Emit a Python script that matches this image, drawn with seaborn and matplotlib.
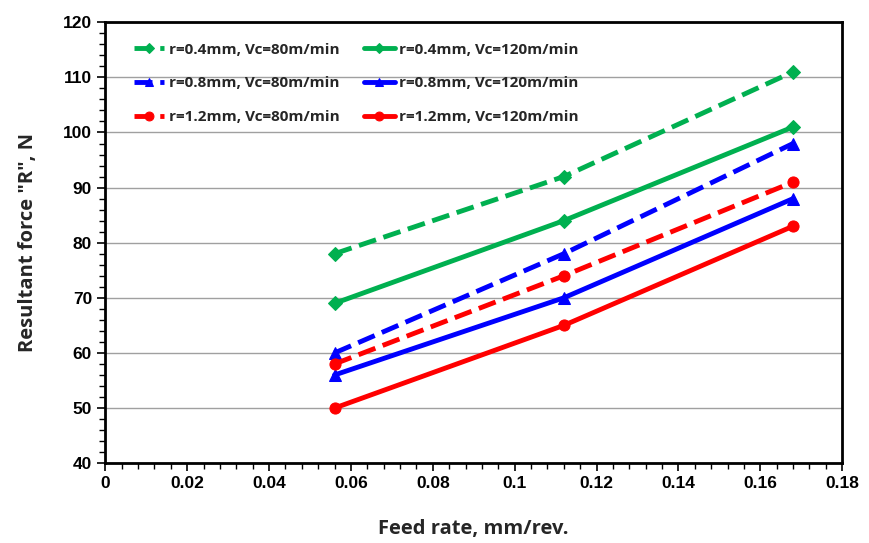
import matplotlib
matplotlib.use("Agg")
import matplotlib.pyplot as plt
from matplotlib.ticker import MultipleLocator
import seaborn as sns
import pandas as pd

feed = [0.056, 0.112, 0.168]
r04_v80 = [78, 92, 111]
r04_v120 = [69, 84, 101]
r08_v80 = [60, 78, 98]
r08_v120 = [56, 70, 88]
r12_v80 = [58, 74, 91]
r12_v120 = [50, 65, 83]

labels = ["r=0.4mm, Vc=80m/min", "r=0.4mm, Vc=120m/min",
          "r=0.8mm, Vc=80m/min", "r=0.8mm, Vc=120m/min",
          "r=1.2mm, Vc=80m/min", "r=1.2mm, Vc=120m/min"]
values = [r04_v80, r04_v120, r08_v80, r08_v120, r12_v80, r12_v120]
colors = ["#00B050", "#00B050", "#0000FF", "#0000FF", "#FF0000", "#FF0000"]
styles = ["--", "-", "--", "-", "--", "-"]
markers = ["D", "D", "^", "^", "o", "o"]
msizes = [7, 7, 8, 8, 8, 8]

sns.set_theme(style="white")
plt.rcParams['font.family'] = ['Liberation Sans', 'DejaVu Sans']

fig = plt.figure(figsize=(8.7, 5.43), dpi=100)
ax = fig.add_axes([0.121, 0.147, 0.847, 0.812])

for lab, vals, c, ls, m, ms in zip(labels, values, colors, styles, markers, msizes):
    df = pd.DataFrame({"x": feed, "y": vals})
    sns.lineplot(data=df, x="x", y="y", ax=ax, color=c, linestyle=ls, linewidth=3.5,
                 marker=m, markersize=ms, markeredgecolor=c, label=lab)

ax.set_xlim(0, 0.18)
ax.set_ylim(40, 120)
ax.xaxis.set_minor_locator(MultipleLocator(0.004))
ax.yaxis.set_major_locator(MultipleLocator(10))
ax.yaxis.set_minor_locator(MultipleLocator(2))
ax.set_xticks([0, 0.02, 0.04, 0.06, 0.08, 0.1, 0.12, 0.14, 0.16, 0.18])
ax.set_xticklabels(["0", "0.02", "0.04", "0.06", "0.08", "0.1", "0.12", "0.14", "0.16", "0.18"])
ax.yaxis.grid(True, which="major", color="#a0a0a0", linewidth=1)
ax.xaxis.grid(False)
ax.set_axisbelow(True)
for s in ax.spines.values():
    s.set_color("black")
    s.set_linewidth(2)
ax.tick_params(axis="both", which="major", direction="out", length=6, width=1.2,
               labelsize=12.5, colors="black", bottom=True, left=True)
ax.tick_params(axis="both", which="minor", direction="out", length=4, width=1,
               colors="black", bottom=True, left=True)
for t in ax.get_xticklabels() + ax.get_yticklabels():
    t.set_fontweight("bold")

ax.set_xlabel("Feed rate, mm/rev.", fontsize=14.5, fontweight="bold", family=["Open Sans", "DejaVu Sans"], labelpad=20)
ax.set_ylabel('Resultant force "R", N', fontsize=14.5, fontweight="bold", family=["Open Sans", "DejaVu Sans"], labelpad=18)

handles, labs = ax.get_legend_handles_labels()
order = [0, 2, 4, 1, 3, 5]
leg = ax.legend([handles[i] for i in order], [labs[i] for i in order],
                loc="upper left", ncol=2, frameon=False, bbox_to_anchor=(0.02, 0.985),
                handlelength=2.0, handletextpad=0.3, columnspacing=1.6, labelspacing=1.3,
                markerscale=0.8,
                prop={"family": ["Open Sans", "DejaVu Sans"], "weight": "bold", "size": 11})

fig.savefig("out.png", dpi=100)
